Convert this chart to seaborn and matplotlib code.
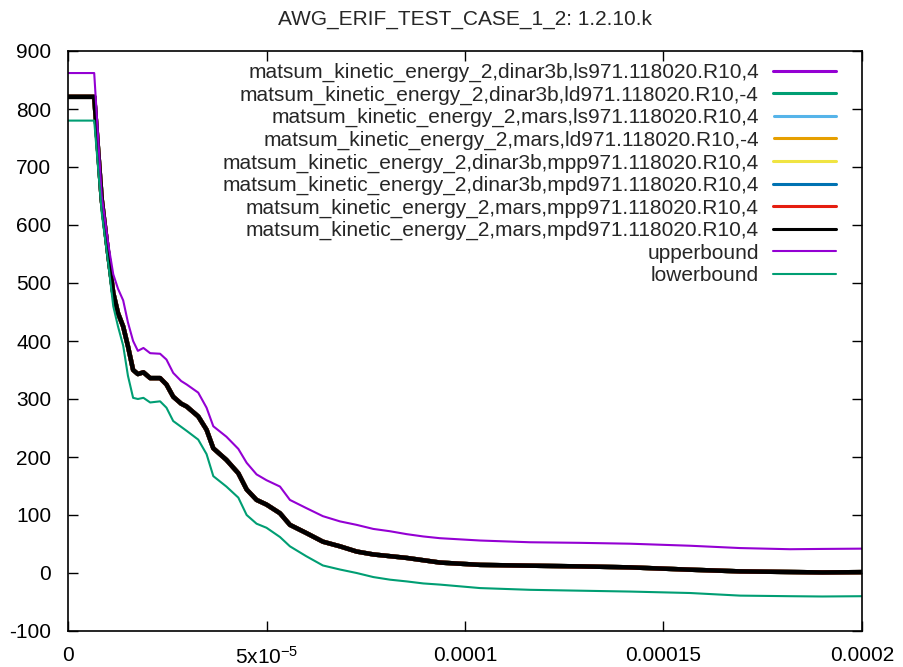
"""
Kinetic energy comparison plot for AWG_ERIF_TEST_CASE_1_2
"""

import numpy as np
import pandas as pd
import matplotlib
matplotlib.use('Agg')
import matplotlib.pyplot as plt
import seaborn as sns
from matplotlib.ticker import FixedLocator, FixedFormatter

# time points (s)
time = [0.0, 6.6e-6, 8.5e-6, 10.2e-6, 11.4e-6, 12.6e-6, 13.9e-6, 15.1e-6, 16.4e-6,
        17.6e-6, 19.0e-6, 20.7e-6, 23.2e-6, 24.8e-6, 26.5e-6, 28.5e-6, 29.9e-6,
        32.8e-6, 34.9e-6, 36.6e-6, 39.9e-6, 42.9e-6, 45.0e-6, 47.5e-6, 50.0e-6,
        53.4e-6, 55.9e-6, 60.0e-6, 64.2e-6, 68.5e-6, 72.7e-6, 76.9e-6, 81.1e-6,
        85.3e-6, 89.5e-6, 93.7e-6, 103.8e-6, 116.4e-6, 129.0e-6, 141.6e-6,
        156.7e-6, 169.3e-6, 181.9e-6, 190.0e-6, 200.0e-6]

# kinetic energy of the runs (all eight runs lie on top of each other)
kinetic_energy = [821, 821, 644, 546, 483, 448, 425, 391, 350,
                  343, 346, 336, 336, 325, 304, 292, 287,
                  270, 247, 215, 195, 172, 144, 126, 118,
                  103, 83, 69, 54, 46, 37, 32, 29,
                  26, 22, 18, 14, 12.6, 11.4, 9.7,
                  5.7, 2.8, 1.7, 1.0, 1.5]

upperbound = [862, 862, 650, 565, 515, 490, 470, 432, 400,
              383, 388, 379, 378, 368, 345, 331, 325,
              311, 285, 253, 235, 214, 190, 170, 160,
              149, 126, 112, 98, 89, 83, 76, 72,
              67, 63, 60, 56, 53, 52, 50.5,
              47, 43, 41, 41.5, 42]

lowerbound = [780, 780, 621, 530, 460, 425, 392, 340, 302,
              300, 302, 294, 296, 285, 262, 252, 245,
              230, 205, 167, 149, 130, 100, 85, 78,
              62, 46, 29, 13, 6, 0, -7, -11.5,
              -14.5, -18, -20, -26, -29, -30.5, -32,
              -34.5, -39, -40, -40.5, -40]

run_labels = [
    'matsum_kinetic_energy_2,dinar3b,ls971.118020.R10,4',
    'matsum_kinetic_energy_2,dinar3b,ld971.118020.R10,-4',
    'matsum_kinetic_energy_2,mars,ls971.118020.R10,4',
    'matsum_kinetic_energy_2,mars,ld971.118020.R10,-4',
    'matsum_kinetic_energy_2,dinar3b,mpp971.118020.R10,4',
    'matsum_kinetic_energy_2,dinar3b,mpd971.118020.R10,4',
    'matsum_kinetic_energy_2,mars,mpp971.118020.R10,4',
    'matsum_kinetic_energy_2,mars,mpd971.118020.R10,4',
]
run_colors = ['#9400d3', '#009e73', '#56b4e9', '#e69f00',
              '#f0e442', '#0072b2', '#e51e10', '#000000']

x_ticks = [0, 5e-5, 1e-4, 1.5e-4, 2e-4]
x_tick_labels = ['0', '5x10$^{-5}$', '0.0001', '0.00015', '0.0002']
y_ticks = [-100, 0, 100, 200, 300, 400, 500, 600, 700, 800, 900]

sns.set_theme(style='ticks')
plt.rcParams['font.family'] = ['Liberation Sans', 'DejaVu Sans']
plt.rcParams['mathtext.fontset'] = 'custom'
plt.rcParams['mathtext.rm'] = 'Liberation Sans'
plt.rcParams['mathtext.it'] = 'Liberation Sans'
plt.rcParams['axes.unicode_minus'] = False

fs = 15

fig = plt.figure(figsize=(9.04, 6.67), dpi=100)
ax = fig.add_axes([68 / 904, 1 - 631 / 667, (862 - 68) / 904, (631 - 51) / 667])

df = pd.DataFrame({'time': time, 'ke': kinetic_energy,
                   'upper': upperbound, 'lower': lowerbound})

for label, color in zip(run_labels, run_colors):
    sns.lineplot(data=df, x='time', y='ke', color=color, linewidth=3.2,
                 label=label, ax=ax)
sns.lineplot(data=df, x='time', y='upper', color='#9400d3', linewidth=1.5,
             label='upperbound', ax=ax)
sns.lineplot(data=df, x='time', y='lower', color='#009e73', linewidth=1.5,
             label='lowerbound', ax=ax)

ax.set_xlim(0, 2e-4)
ax.set_ylim(-100, 900)
ax.xaxis.set_major_locator(FixedLocator(x_ticks))
ax.xaxis.set_major_formatter(FixedFormatter(x_tick_labels))
ax.yaxis.set_major_locator(FixedLocator(y_ticks))
ax.set_xlabel('')
ax.set_ylabel('')
ax.tick_params(direction='in', length=7, width=1, top=True, right=True,
               labelsize=fs, colors='black')
ax.tick_params(axis='x', pad=11)
ax.tick_params(axis='y', pad=12)
for side in ['left', 'right', 'top', 'bottom']:
    ax.spines[side].set_visible(True)
    ax.spines[side].set_color('black')
    ax.spines[side].set_linewidth(1.2)

ax.set_title('AWG_ERIF_TEST_CASE_1_2: 1.2.10.k', fontsize=fs, pad=19)

leg = ax.legend(loc='upper right', bbox_to_anchor=(836 / 904, 1 - 63 / 667),
                bbox_transform=fig.transFigure, frameon=False, markerfirst=False,
                fontsize=fs, handlelength=3.0, handletextpad=0.7,
                labelspacing=0.16, borderpad=0, borderaxespad=0)
for i, line in enumerate(leg.get_lines()):
    line.set_linewidth(2.2 if i < 8 else 1.5)

fig.savefig('out.png', dpi=100)
